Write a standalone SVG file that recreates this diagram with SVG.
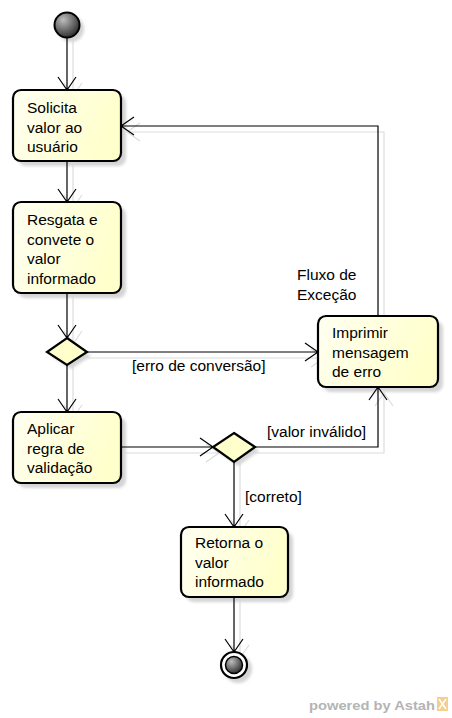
<svg xmlns="http://www.w3.org/2000/svg" width="452" height="718" viewBox="0 0 452 718">
<style>
.box{fill:url(#g);stroke:#000;stroke-width:2.2}
.shadow{fill:#d4d4d4;filter:url(#blur)}
.t{font-family:"Liberation Sans",Arial,sans-serif;font-size:15.5px;fill:#000}
.e{fill:none;stroke:#000;stroke-width:1.2}
.es{fill:none;stroke:#dcdcdc;stroke-width:1.2}
.dia{fill:#ffffcc;stroke:#000;stroke-width:2.2}
</style>
<defs>
<linearGradient id="g" x1="0" y1="0" x2="1" y2="0.3">
<stop offset="0" stop-color="#fffff2"/>
<stop offset="1" stop-color="#ffffcc"/>
</linearGradient>
<radialGradient id="rg" cx="0.35" cy="0.3" r="0.75">
<stop offset="0" stop-color="#bdbdbd"/>
<stop offset="1" stop-color="#2a2a2a"/>
</radialGradient>
<filter id="blur" x="-20%" y="-20%" width="140%" height="140%"><feGaussianBlur stdDeviation="1.5"/></filter>
</defs>

<!-- connector shadows -->
<g id="edge-shadows">
<path class="es" d="M73,38 V96 M64,83 L73,96 L82,83"/>
<path class="es" d="M73,161 V208 M64,195 L73,208 L82,195"/>
<path class="es" d="M73,293 V344 M64,331 L73,344 L82,331"/>
<path class="es" d="M87,358 H324 M311,349 L324,358 L311,367"/>
<path class="es" d="M73,365 V418 M64,405 L73,418 L82,405"/>
<path class="es" d="M384,316 V132 H127 M140,123 L127,132 L140,141"/>
<path class="es" d="M121,453 H219 M206,444 L219,453 L206,462"/>
<path class="es" d="M255,453 H384 V393 M375,406 L384,393 L393,406"/>
<path class="es" d="M240,462 V533 M231,520 L240,533 L249,520"/>
<path class="es" d="M240,597 V658 M231,645 L240,658 L249,645"/>
</g>

<g id="start">
<circle cx="71" cy="29" r="13" class="shadow"/>
<circle cx="67" cy="25" r="12.5" fill="url(#rg)" stroke="#000" stroke-width="2"/>
</g>

<g id="n1">
<rect x="18" y="95" width="108" height="71" rx="8" class="shadow"/>
<rect x="13" y="90" width="108" height="71" rx="8" class="box"/>
<text class="t" x="27" y="113">Solicita</text>
<text class="t" x="27" y="132.5">valor ao</text>
<text class="t" x="27" y="152">usuário</text>
</g>

<g id="n2">
<rect x="18" y="207" width="108" height="91" rx="8" class="shadow"/>
<rect x="13" y="202" width="108" height="91" rx="8" class="box"/>
<text class="t" x="27" y="225">Resgata e</text>
<text class="t" x="27" y="244.5">convete o</text>
<text class="t" x="27" y="264">valor</text>
<text class="t" x="27" y="283.5">informado</text>
</g>

<g id="d1">
<polygon points="71,342 91,356 71,369 51,356" class="shadow"/>
<polygon points="67,338 87,352 67,365 47,352" class="dia"/>
</g>

<g id="n3">
<rect x="323" y="321" width="120" height="71" rx="8" class="shadow"/>
<rect x="318" y="316" width="120" height="71" rx="8" class="box"/>
<text class="t" x="332" y="338">Imprimir</text>
<text class="t" x="332" y="357.5">mensagem</text>
<text class="t" x="332" y="377">de erro</text>
</g>

<g id="n4">
<rect x="18" y="417" width="108" height="71" rx="8" class="shadow"/>
<rect x="13" y="412" width="108" height="71" rx="8" class="box"/>
<text class="t" x="27" y="434">Aplicar</text>
<text class="t" x="27" y="453.5">regra de</text>
<text class="t" x="27" y="473">validação</text>
</g>

<g id="d2">
<polygon points="238,437 259,451 238,466 217,451" class="shadow"/>
<polygon points="234,433 255,447 234,462 213,447" class="dia"/>
</g>

<g id="n5">
<rect x="186" y="532" width="107" height="70" rx="8" class="shadow"/>
<rect x="181" y="527" width="107" height="70" rx="8" class="box"/>
<text class="t" x="195" y="548">Retorna o</text>
<text class="t" x="195" y="567.5">valor</text>
<text class="t" x="195" y="587">informado</text>
</g>

<g id="end">
<circle cx="238" cy="669" r="14" class="shadow"/>
<circle cx="234" cy="665" r="13" fill="#fff" stroke="#000" stroke-width="2.2"/>
<circle cx="234" cy="665" r="8.5" fill="url(#rg)" stroke="#000" stroke-width="1.5"/>
</g>

<g id="connectors">
<path class="e" d="M67,38 V90 M58,77 L67,90 L76,77"/>
<path class="e" d="M67,161 V202 M58,189 L67,202 L76,189"/>
<path class="e" d="M67,293 V338 M58,325 L67,338 L76,325"/>
<path class="e" d="M87,352 H318 M305,343 L318,352 L305,361"/>
<path class="e" d="M67,365 V412 M58,399 L67,412 L76,399"/>
<path class="e" d="M378,316 V126 H121 M134,117 L121,126 L134,135"/>
<path class="e" d="M121,447 H213 M200,438 L213,447 L200,456"/>
<path class="e" d="M255,447 H378 V387 M369,400 L378,387 L387,400"/>
<path class="e" d="M234,462 V527 M225,514 L234,527 L243,514"/>
<path class="e" d="M234,597 V652 M225,639 L234,652 L243,639"/>
<text class="t" x="132" y="371">[erro de conversão]</text>
<text class="t" x="297" y="280">Fluxo de</text>
<text class="t" x="297" y="300">Exceção</text>
<text class="t" x="267" y="437">[valor inválido]</text>
<text class="t" x="245" y="502">[correto]</text>
</g>

<g id="watermark">
<text x="309" y="710" textLength="126" lengthAdjust="spacingAndGlyphs" font-family="'Liberation Sans',Arial,sans-serif" font-weight="bold" font-size="13.5px" fill="#b4b4b4">powered by Astah</text>
<rect x="437" y="697" width="11" height="14" fill="#f5cf8f"/>
<path d="M439,699 L446,709 M446,699 L439,709" stroke="#fff" stroke-width="1.5"/>
</g>
</svg>
